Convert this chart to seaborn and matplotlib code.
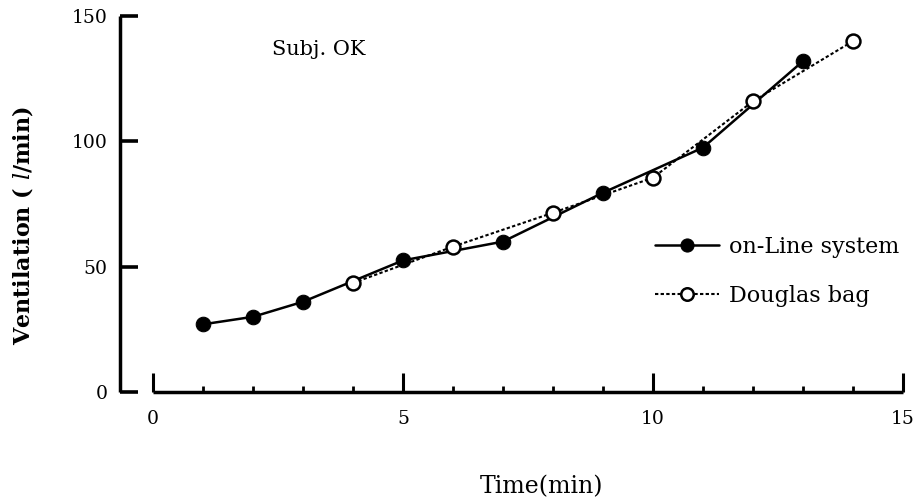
import pandas as pd
import seaborn as sns
from matplotlib import pyplot as plt
from matplotlib.ticker import MultipleLocator

# ventilation (l/min)
online_time = [1, 2, 3, 5, 7, 9, 11, 13]
online_vent = [27, 30, 36, 52.5, 60, 79.5, 97.5, 132]
douglas_time = [4, 6, 8, 10, 12, 14]
douglas_vent = [43.5, 58, 71.5, 85.5, 116, 140]

x_ticks = [0, 5, 10, 15]
y_ticks = [0, 50, 100, 150]

df_on = pd.DataFrame({"Time": online_time, "Ventilation": online_vent})
df_db = pd.DataFrame({"Time": douglas_time, "Ventilation": douglas_vent})

sns.set_style("ticks", {"axes.edgecolor": "black", "text.color": "black",
                        "axes.labelcolor": "black", "xtick.color": "black",
                        "ytick.color": "black"})
plt.rcParams["font.family"] = ["DejaVu Serif"]
plt.rcParams["mathtext.fontset"] = "dejavuserif"

fig = plt.figure(figsize=(9.16, 4.98), dpi=100)
ax = fig.add_axes([120 / 916, 106 / 498, 793 / 916, 381 / 498])

sns.lineplot(data=df_on, x="Time", y="Ventilation", ax=ax, color="black",
             linewidth=1.8, marker="o", markersize=10.5, markerfacecolor="black",
             markeredgecolor="black", label="on-Line system", zorder=3)
sns.lineplot(data=df_db, x="Time", y="Ventilation", ax=ax, color="black",
             linewidth=1.5, linestyle=(0, (1.6, 1.1)), marker="o", markersize=10,
             markerfacecolor="white", markeredgecolor="black", markeredgewidth=1.8,
             label="Douglas bag", zorder=4)

ax.set_xlim(-0.66, 15.2)
ax.set_ylim(0, 152)
ax.set_xticks(x_ticks)
ax.set_yticks(y_ticks)
ax.xaxis.set_minor_locator(MultipleLocator(1))

sns.despine(ax=ax)
ax.spines["bottom"].set_bounds(0, 15)
ax.spines["left"].set_bounds(0, 150)
for s in ["bottom", "left"]:
    ax.spines[s].set_linewidth(2.5)
    ax.spines[s].set_color("black")
    ax.spines[s].set_capstyle("butt")

ax.tick_params(axis="x", which="major", direction="in", length=14, width=2.2,
               labelsize=13.5, pad=13, color="black", labelcolor="black")
ax.tick_params(axis="x", which="minor", direction="in", length=4.5, width=2.0,
               color="black")
ax.tick_params(axis="y", which="major", direction="in", length=13, width=2.6,
               labelsize=13.5, pad=9, color="black", labelcolor="black")

ax.set_xlabel("Time(min)", fontsize=17, color="black")
ax.set_ylabel("Ventilation ( $\\mathit{l}$/min)", fontsize=16, fontweight="bold",
              color="black")
ax.xaxis.set_label_coords((542 - 120) / 793, (392 - 475) / 381)
ax.yaxis.set_label_coords((35 - 120) / 793, (392 - 226) / 381)

ax.text(2.38, 136.5, "Subj. OK", fontsize=15, ha="left", va="center", color="black")

leg = ax.legend(loc="center left",
                bbox_to_anchor=((655 - 120) / 793, (392 - 271.5) / 381),
                frameon=False, fontsize=16, handlelength=2.9, handletextpad=0.45,
                labelspacing=1.2, borderpad=0, borderaxespad=0, markerscale=0.9)
for t in leg.get_texts():
    t.set_color("black")

plt.savefig("out.png", dpi=100)
plt.close()
